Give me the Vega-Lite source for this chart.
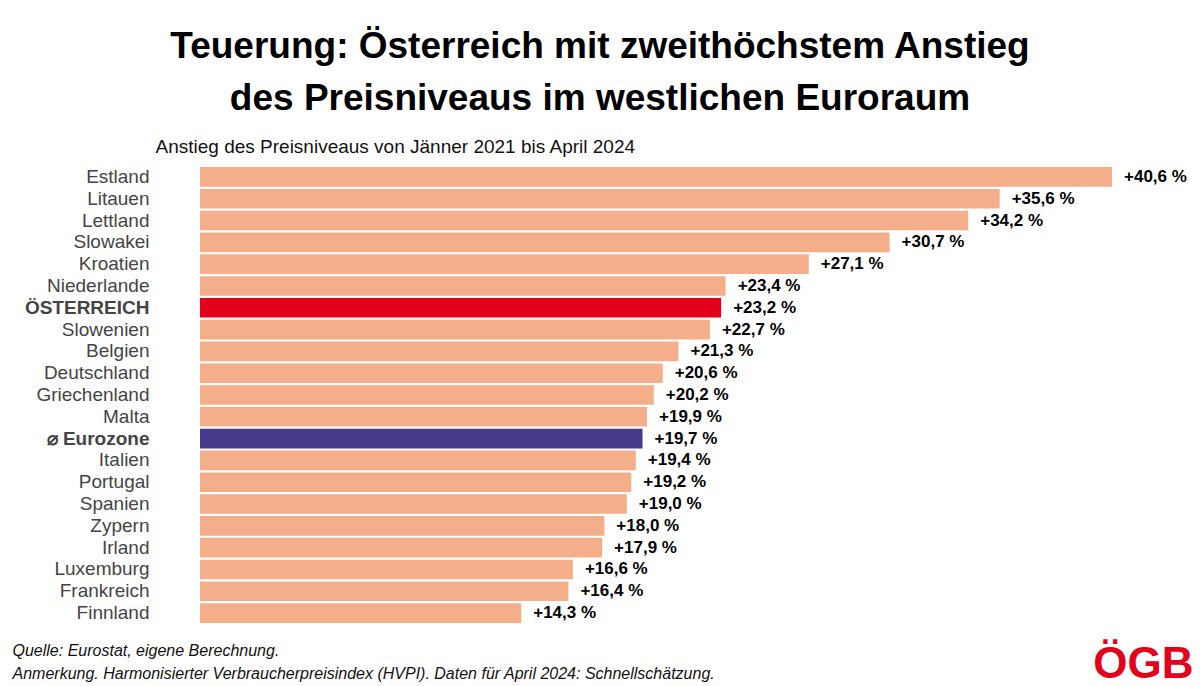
{
  "$schema": "https://vega.github.io/schema/vega-lite/v6.json",
  "width": 912,
  "height": 458,
  "autosize": "none",
  "padding": {"left": 200, "top": 166, "right": 88, "bottom": 62},
  "background": "white",
  "config": {"font": "Liberation Sans", "view": {"stroke": null}},
  "title": {
    "text": ["Teuerung: Österreich mit zweithöchstem Anstieg", "des Preisniveaus im westlichen Euroraum"],
    "anchor": "middle",
    "frame": "group",
    "dx": -56,
    "offset": 19,
    "fontSize": 37,
    "fontWeight": "bold",
    "font": "Liberation Sans",
    "color": "#000000",
    "lineHeight": 52
  },
  "data": {
    "values": [
      {"land": "Estland", "wert": 40.6, "gruppe": "Land", "label": "+40,6 %"},
      {"land": "Litauen", "wert": 35.6, "gruppe": "Land", "label": "+35,6 %"},
      {"land": "Lettland", "wert": 34.2, "gruppe": "Land", "label": "+34,2 %"},
      {"land": "Slowakei", "wert": 30.7, "gruppe": "Land", "label": "+30,7 %"},
      {"land": "Kroatien", "wert": 27.1, "gruppe": "Land", "label": "+27,1 %"},
      {"land": "Niederlande", "wert": 23.4, "gruppe": "Land", "label": "+23,4 %"},
      {"land": "ÖSTERREICH", "wert": 23.2, "gruppe": "Österreich", "label": "+23,2 %"},
      {"land": "Slowenien", "wert": 22.7, "gruppe": "Land", "label": "+22,7 %"},
      {"land": "Belgien", "wert": 21.3, "gruppe": "Land", "label": "+21,3 %"},
      {"land": "Deutschland", "wert": 20.6, "gruppe": "Land", "label": "+20,6 %"},
      {"land": "Griechenland", "wert": 20.2, "gruppe": "Land", "label": "+20,2 %"},
      {"land": "Malta", "wert": 19.9, "gruppe": "Land", "label": "+19,9 %"},
      {"land": "⌀ Eurozone", "wert": 19.7, "gruppe": "Eurozone", "label": "+19,7 %"},
      {"land": "Italien", "wert": 19.4, "gruppe": "Land", "label": "+19,4 %"},
      {"land": "Portugal", "wert": 19.2, "gruppe": "Land", "label": "+19,2 %"},
      {"land": "Spanien", "wert": 19.0, "gruppe": "Land", "label": "+19,0 %"},
      {"land": "Zypern", "wert": 18.0, "gruppe": "Land", "label": "+18,0 %"},
      {"land": "Irland", "wert": 17.9, "gruppe": "Land", "label": "+17,9 %"},
      {"land": "Luxemburg", "wert": 16.6, "gruppe": "Land", "label": "+16,6 %"},
      {"land": "Frankreich", "wert": 16.4, "gruppe": "Land", "label": "+16,4 %"},
      {"land": "Finnland", "wert": 14.3, "gruppe": "Land", "label": "+14,3 %"}
    ]
  },
  "resolve": {"axis": {"x": "independent", "y": "independent"}},
  "layer": [
    {
      "mark": {"type": "bar"},
      "encoding": {
        "y": {
          "field": "land", "type": "nominal", "sort": null,
          "scale": {"paddingInner": 0.1, "paddingOuter": 0.05},
          "axis": {
            "title": null, "ticks": false, "domain": false, "labelPadding": 51,
            "labelFontSize": 19, "labelColor": "#444444", "labelFont": "Liberation Sans",
            "labelFontWeight": {"condition": {"test": "datum.value === 'ÖSTERREICH' || datum.value === '⌀ Eurozone'", "value": "bold"}, "value": "normal"}
          }
        },
        "x": {
          "field": "wert", "type": "quantitative",
          "scale": {"domain": [0, 40.6], "nice": false, "zero": true},
          "axis": {
            "orient": "top", "labels": false, "ticks": false, "domain": false, "grid": false,
            "title": "Anstieg des Preisniveaus von Jänner 2021 bis April 2024",
            "titleFontSize": 19, "titleFontWeight": "normal", "titleColor": "#111111",
            "titleAlign": "left", "titleAnchor": "start", "titleBaseline": "alphabetic",
            "titleX": -45, "titleY": -14
          }
        },
        "color": {
          "field": "gruppe", "type": "nominal",
          "scale": {"domain": ["Land", "Österreich", "Eurozone"], "range": ["#F4AF8A", "#E2001A", "#46398B"]},
          "legend": null
        }
      }
    },
    {
      "mark": {"type": "text", "align": "left", "baseline": "middle", "dx": 12, "fontSize": 17, "fontWeight": "bold", "color": "#000000"},
      "encoding": {
        "y": {
          "field": "land", "type": "nominal", "sort": null,
          "axis": {
            "orient": "right", "labels": false, "ticks": false, "domain": false,
            "title": "ÖGB", "titleAngle": 0, "titleFontSize": 44, "titleFontWeight": "bold",
            "titleColor": "#E2001A", "titleAlign": "right", "titleBaseline": "alphabetic",
            "titleX": 81, "titleY": 511
          }
        },
        "x": {
          "field": "wert", "type": "quantitative",
          "axis": {
            "orient": "bottom", "labels": false, "ticks": false, "domain": false, "grid": false,
            "title": ["Quelle: Eurostat, eigene Berechnung.", "Anmerkung. Harmonisierter Verbraucherpreisindex (HVPI). Daten für April 2024: Schnellschätzung."],
            "titleFontSize": 16, "titleFontWeight": "normal", "titleFontStyle": "italic", "titleColor": "#111111",
            "titleAlign": "left", "titleAnchor": "start", "titleBaseline": "alphabetic",
            "titleLineHeight": 23, "titleX": -188, "titleY": 31
          }
        },
        "text": {"field": "label"}
      }
    }
  ]
}
